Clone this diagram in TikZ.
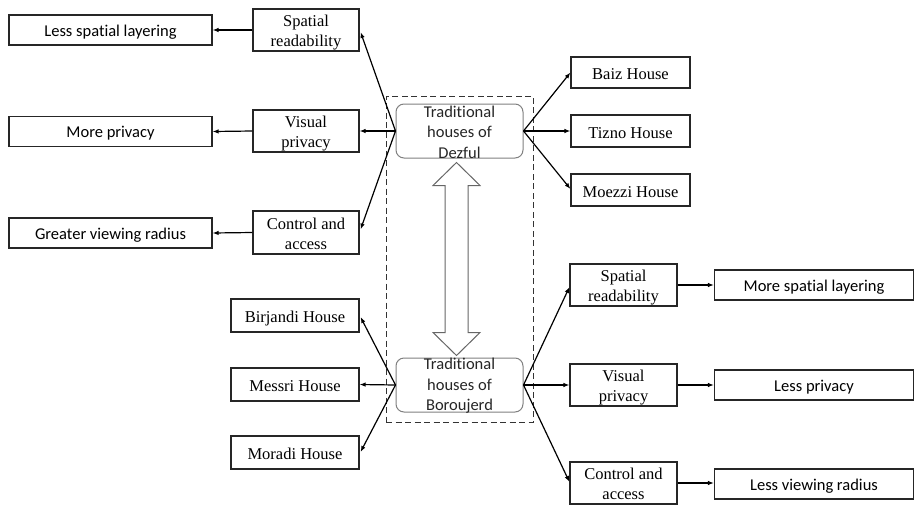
\documentclass[tikz,border=0pt]{standalone}
\usepackage{fontspec}
\setmainfont{Liberation Serif}
\newfontfamily\carl[Ligatures=NoCommon]{Carlito}
\usetikzlibrary{arrows.meta,calc}
\newcommand\twol[2]{\rule{0pt}{17.4pt}#1\\#2\rule[-4pt]{0pt}{4pt}}
\begin{document}
\begin{tikzpicture}[x=1pt,y=-1pt,
  font=\fontsize{16.5}{20}\selectfont,
  base/.style={draw=black!85,line width=1.1pt,inner sep=0pt,align=center},
  sbox/.style={base,font=\carl\fontsize{16.5}{20}\selectfont,text height=15pt,text depth=3pt,minimum width=203pt,minimum height=30pt},
  rbox/.style={sbox,minimum width=199pt},
  fbox/.style={base,minimum width=106pt,minimum height=42pt},
  hbox/.style={base,text height=16.5pt,text depth=2pt,minimum width=119pt,minimum height=31pt},
  bbox/.style={hbox,minimum width=128pt,minimum height=33pt},
  tbox/.style={draw=black!50,line width=1pt,rounded corners=8pt,minimum width=127pt,minimum height=54pt,inner sep=0pt},
  ttext/.style={font=\carl\fontsize{16.5}{20.5}\selectfont,align=center,text=black!85,inner sep=0pt},
  conn/.style={line width=1.2pt,-{Latex[length=6pt,width=4.5pt]}}
]
\useasboundingbox (0,0) rectangle (914,504);
% dashed frame
\node[draw=black!80,dashed,dash pattern=on 6pt off 3.5pt,line width=1pt,minimum width=147pt,minimum height=326pt,inner sep=0pt] (frame) at (459.5,259) {};
% left top group
\node[sbox] (lsl) at (110.5,30) {Less spatial layering};
\node[fbox] (sr1) at (306,30) {\twol{Spatial}{readability}};
\node[sbox] (mp) at (110.5,131.5) {More privacy};
\node[fbox] (vp1) at (306,131) {\twol{Visual}{privacy}};
\node[sbox] (gvr) at (110.5,233) {Greater viewing radius};
\node[fbox,minimum height=43pt] (ca1) at (306,232.5) {\twol{Control and}{access}};
% centre boxes
\node[tbox] (dez) at (459.5,131) {};
\node[ttext] at (459.5,132) {Traditional\\houses of\\Dezful};
\node[tbox] (bor) at (459.5,385) {};
\node[ttext] at (459.5,386) {Traditional\\houses of\\Boroujerd};
% right top houses
\node[hbox] (baiz) at (630.5,72.5) {Baiz House};
\node[hbox,minimum height=32pt] (tizno) at (630.5,131) {Tizno House};
\node[hbox,minimum height=32pt] (moezzi) at (630.5,190) {Moezzi House};
% left bottom houses
\node[bbox] (birj) at (295,315.5) {Birjandi House};
\node[bbox] (mess) at (295,384.5) {Messri House};
\node[bbox] (mor) at (295,452.5) {Moradi House};
% right bottom group
\node[fbox,minimum width=107pt] (sr2) at (623.5,285) {\twol{Spatial}{readability}};
\node[fbox,minimum width=107pt] (vp2) at (623.5,385) {\twol{Visual}{privacy}};
\node[fbox,minimum width=107pt] (ca2) at (623.5,483) {\twol{Control and}{access}};
\node[rbox] (msl) at (814,285) {More spatial layering};
\node[rbox] (lp) at (814,385) {Less privacy};
\node[rbox] (lvr) at (814,484) {Less viewing radius};
% connectors
\draw[conn] (dez.west) -- ($(sr1.east)+(1,2)$);
\draw[conn] (dez.west) -- (vp1.east);
\draw[conn] (dez.west) -- ($(ca1.east)+(1,-3)$);
\draw[conn] (sr1.west) -- (lsl.east);
\draw[conn] (vp1.west) -- (mp.east);
\draw[conn] (ca1.west) -- (gvr.east);
\draw[conn] (dez.east) -- (baiz.west);
\draw[conn] (dez.east) -- (tizno.west);
\draw[conn] (dez.east) -- ($(moezzi.west)+(0,-1)$);
\draw[conn] (bor.west) -- ($(birj.east)+(1,1.5)$);
\draw[conn] (bor.west) -- (mess.east);
\draw[conn] (bor.west) -- ($(mor.east)+(1,-0.5)$);
\draw[conn] (bor.east) -- ($(sr2.west)+(0,2)$);
\draw[conn] (bor.east) -- (vp2.west);
\draw[conn] (bor.east) -- ($(ca2.west)+(0,-1)$);
\draw[conn] (sr2.east) -- (msl.west);
\draw[conn] (vp2.east) -- (lp.west);
\draw[conn] (ca2.east) -- ($(lvr.west)+(0,-1)$);
% hollow double arrow between the two centre boxes
\coordinate (ta) at ($(dez.south)+(-3,4)$);
\coordinate (ba) at ($(bor.north)+(-3,-2)$);
\draw[draw=black!60,line width=1pt,fill=white]
  (ta) -- ++(23.5,23) -- ++(-12,0) -- ($(ba)+(11.5,-23)$) -- ++(12,0) -- (ba)
  -- ++(-23.5,-23) -- ++(12,0) -- ($(ta)+(-11.5,23)$) -- ++(-12,0) -- cycle;
\end{tikzpicture}
\end{document}
